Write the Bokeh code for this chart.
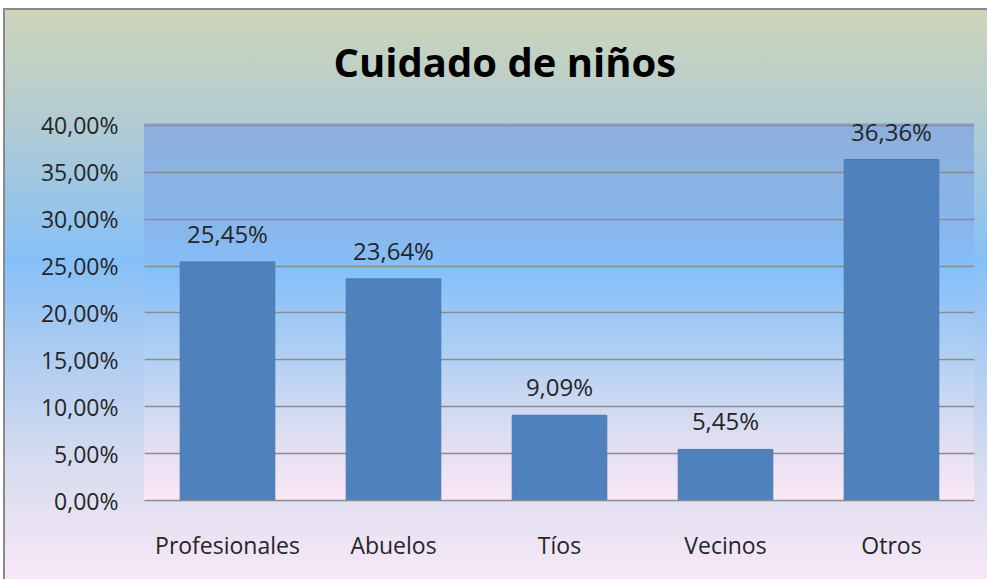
from bokeh.plotting import figure
from bokeh.models import ColumnDataSource, LabelSet, FixedTicker, CustomJSTickFormatter, Range1d
from bokeh.core.properties import value
from bokeh.embed import file_html
from bokeh.resources import INLINE

categories = ["Profesionales", "Abuelos", "Tíos", "Vecinos", "Otros"]
values = [25.45, 23.64, 9.09, 5.45, 36.36]
y_ticks = [0, 5, 10, 15, 20, 25, 30, 35, 40]
title_text = "Cuidado de niños"

labels = [f"{v:.2f}".replace(".", ",") + "%" for v in values]
src = ColumnDataSource(dict(cat=categories, val=values, lab=labels))

W, H = 987, 579
FL, FT, FR, FB = 144, 117, 13, 79
GRID_TOP = 123  # pixel row of the 40% gridline
FW = W - FL - FR
FH_GRID = H - FB - GRID_TOP
ymax = y_ticks[-1] * (H - FB - FT) / FH_GRID
FONT = "Open Sans"

p = figure(x_range=categories, y_range=Range1d(0, ymax), width=W, height=H,
           output_backend="svg", toolbar_location=None,
           min_border_left=FL, min_border_top=FT, min_border_right=FR, min_border_bottom=FB)

p.background_fill_alpha = 0
p.border_fill_alpha = 0
p.outline_line_color = None

outer = "linear-gradient(to bottom, #d0d6b8 0%, #b4ccd0 20%, #86c0f8 45%, #a6c9f2 58%, #d6dcef 80%, #f8e8f7 100%)"
frame = (f"linear-gradient(to bottom, #8eaedb 0%, #87b8ee 30%, #86c0fa 40%, #a9cdf4 58%, "
         f"#d8dcf0 80%, #fbe8f6 100%) {FL}px {GRID_TOP}px / {FW}px {FH_GRID}px no-repeat")
white_top = "linear-gradient(#ffffff, #ffffff) 0 0 / 100% 8px no-repeat"
white_left = "linear-gradient(#ffffff, #ffffff) 0 0 / 3px 100% no-repeat"
border_top = "linear-gradient(#8a8a8a, #8a8a8a) 3px 8px / 100% 2px no-repeat"
border_left = "linear-gradient(#8a8a8a, #8a8a8a) 3px 8px / 2px 100% no-repeat"
p.styles = {"background": ", ".join([white_top, white_left, border_top, border_left, frame, outer])}

p.title.text = title_text
p.title.text_font = FONT
p.title.text_font_style = "bold"
p.title.text_font_size = "40px"
p.title.text_color = "#000000"
p.title.align = "left"
p.title.offset = 189
p.title.standoff = 62

p.vbar(x="cat", top="val", width=0.57, source=src, fill_color="#4f81bd", line_color="#4a7ab3")

p.add_layout(LabelSet(x="cat", y="val", text="lab", source=src, y_offset=19,
                      text_align="center", text_baseline="alphabetic",
                      text_font=value(FONT), text_font_size=value("24px"),
                      text_color="#262626"))

p.yaxis.ticker = FixedTicker(ticks=y_ticks)
p.yaxis.formatter = CustomJSTickFormatter(code="return tick.toFixed(2).replace('.', ',') + '%';")
p.yaxis.axis_line_color = None
p.yaxis.major_tick_line_color = None
p.yaxis.minor_tick_line_color = None
p.yaxis.major_tick_out = 0
p.yaxis.major_label_standoff = 26
p.yaxis.major_label_text_font = FONT
p.yaxis.major_label_text_font_size = "23px"
p.yaxis.major_label_text_color = "#262626"

p.xaxis.axis_line_color = "#8c8c8c"
p.xaxis.axis_line_width = 1.5
p.xaxis.major_tick_line_color = None
p.xaxis.major_tick_out = 0
p.xaxis.major_label_standoff = 28
p.xaxis.major_label_text_font = FONT
p.xaxis.major_label_text_font_size = "23px"
p.xaxis.major_label_text_color = "#262626"

p.xgrid.grid_line_color = None
p.ygrid.grid_line_color = "#8c8c8c"
p.ygrid.grid_line_width = 1.5

open("out.html", "w").write(file_html(p, INLINE))
